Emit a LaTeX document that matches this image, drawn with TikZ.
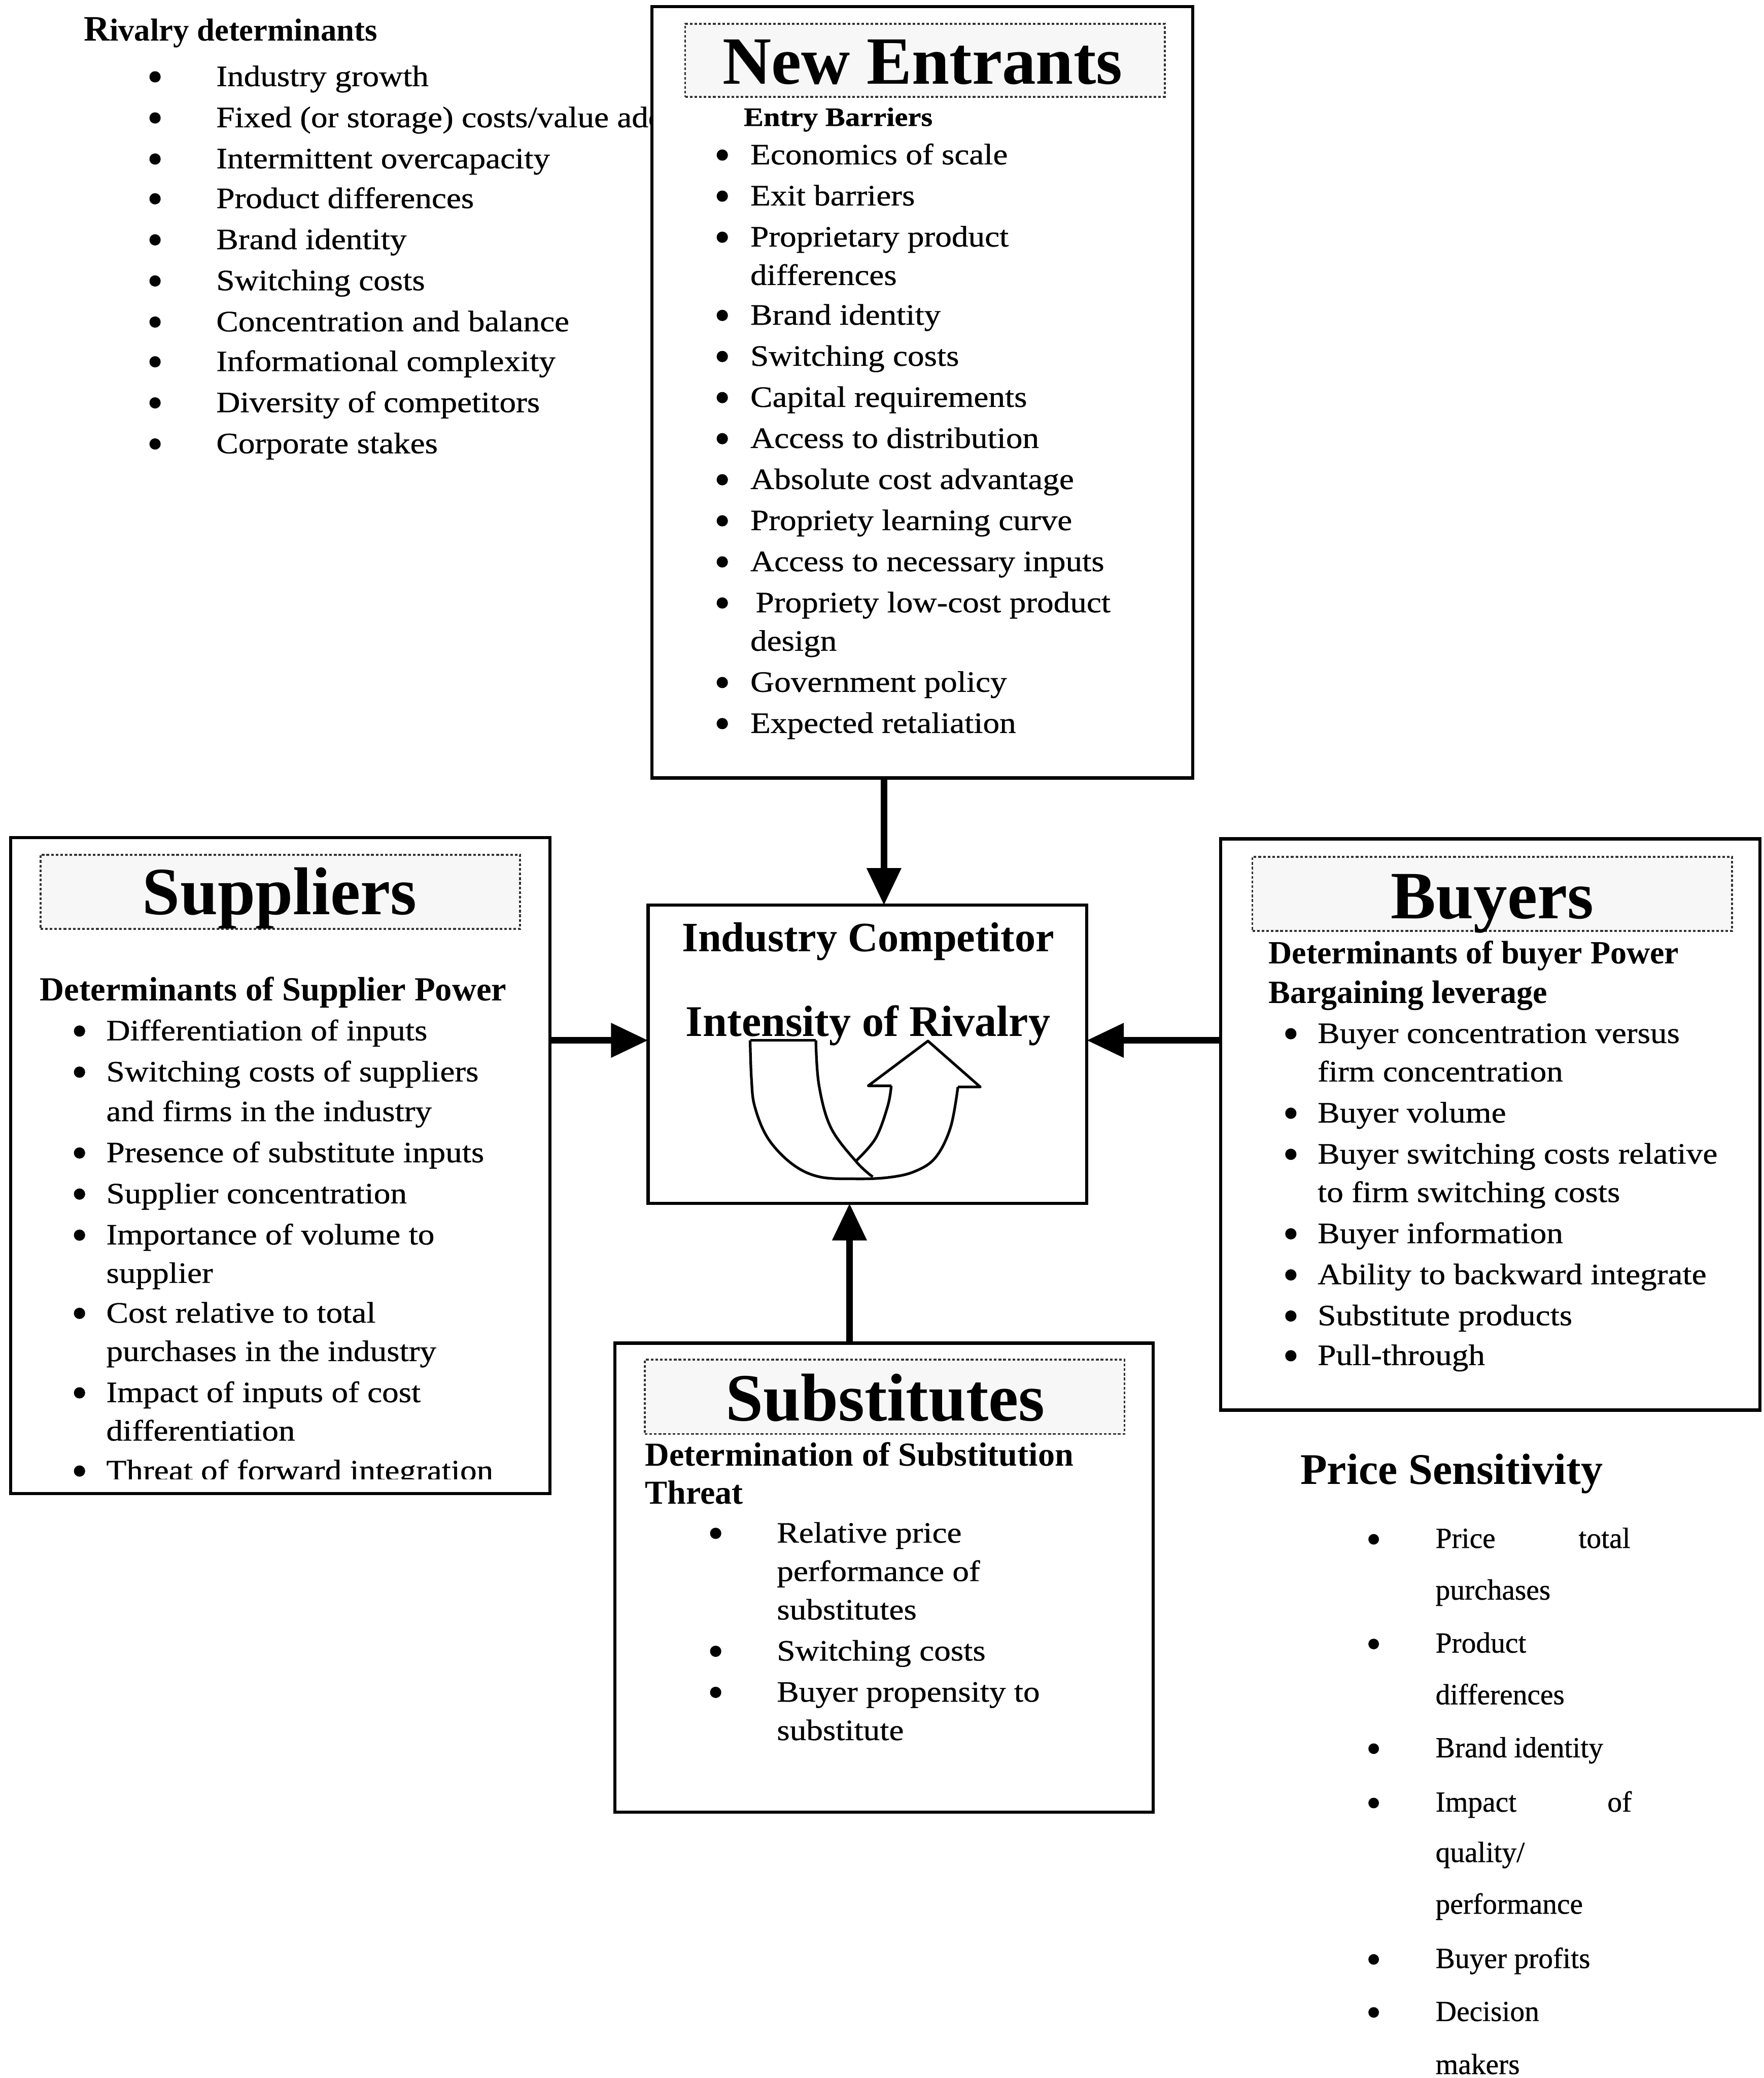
\documentclass[tikz,border=0pt]{standalone}
\usepackage{fontspec}
\setmainfont{Liberation Serif}
\newfontfamily\bodyfont[FakeStretch=1.12,FakeBold=0.6]{Liberation Serif}
\newfontfamily\pfont[FakeBold=0.6]{Liberation Serif}
\usetikzlibrary{arrows.meta,calc}
\newcommand\litem[5]{\node[bulc] (#1b) at ([yshift=7pt]#2,#4) {}; \node[body] (#1) at (#3,#4) {#5};}
\newcommand\lcont[4]{\node[body] (#1) at (#2,#3) {#4};}
\newcommand\pitem[5]{\node[bulc,minimum size=8pt] (#1b) at ([yshift=6.5pt]#2,#4) {}; \node[ptext] (#1) at (#3,#4) {#5};}
\newcommand\pcont[4]{\node[ptext] (#1) at (#2,#3) {#4};}
\begin{document}
\begin{tikzpicture}[x=1pt,y=-1pt,
  mainbox/.style={draw,line width=2.4pt,fill=white,inner sep=0pt,outer sep=0pt,anchor=north west},
  titlebox/.style={draw=black!80,line width=1.4pt,dash pattern=on 2pt off 1.5pt,fill=black!3,inner sep=0pt,outer sep=0pt,anchor=north west},
  titletext/.style={font=\fontsize{51}{56}\selectfont\bfseries,anchor=base,inner sep=0pt},
  body/.style={font=\bodyfont\fontsize{22.3}{26}\selectfont,anchor=base west,inner sep=0pt},
  ptext/.style={font=\pfont\fontsize{22}{26}\selectfont,anchor=base west,inner sep=0pt},
  bulc/.style={circle,fill,inner sep=0pt,minimum size=8.5pt},
  head/.style={anchor=base west,inner sep=0pt},
  bigarrow/.style={line width=5pt,-{Triangle[length=28pt,width=25pt]}},
  uarrow/.style={line width=2pt,line join=round},
]
\useasboundingbox (0,0) rectangle (1331,1568);
\fill[white] (0,0) rectangle (1331,1568);

% ---------------- Rivalry determinants ----------------
\node[head,font=\fontsize{24}{28}\selectfont\bfseries] (rivh) at (63,31) {{\fontsize{27}{28}\selectfont R}ivalry determinants};
\litem{r1}{117}{163}{65}{Industry growth}
\litem{r2}{117}{163}{96}{Fixed (or storage) costs/value added}
\litem{r3}{117}{163}{127}{Intermittent overcapacity}
\litem{r4}{117}{163}{157}{Product differences}
\litem{r5}{117}{163}{188}{Brand identity}
\litem{r6}{117}{163}{219}{Switching costs}
\litem{r7}{117}{163}{250}{Concentration and balance}
\litem{r8}{117}{163}{280}{Informational complexity}
\litem{r9}{117}{163}{311}{Diversity of competitors}
\litem{r10}{117}{163}{342}{Corporate stakes}

% ---------------- New Entrants ----------------
\node[mainbox,minimum width=408pt,minimum height=582pt] (ne) at (492,5) {};
\node[titlebox,minimum width=362pt,minimum height=55pt] (net) at (517,18) {};
\node[titletext] (netx) at (696,63.5) {New Entrants};
\node[head,font=\bodyfont\fontsize{20}{24}\selectfont\bfseries] (neh) at (561,95) {Entry Barriers};
\litem{n1}{545}{566}{124}{Economics of scale}
\litem{n2}{545}{566}{155}{Exit barriers}
\litem{n3}{545}{566}{186}{Proprietary product}
\lcont{n3c}{566}{215}{differences}
\litem{n4}{545}{566}{245}{Brand identity}
\litem{n5}{545}{566}{276}{Switching costs}
\litem{n6}{545}{566}{307}{Capital requirements}
\litem{n7}{545}{566}{338}{Access to distribution}
\litem{n8}{545}{566}{369}{Absolute cost advantage}
\litem{n9}{545}{566}{400}{Propriety learning curve}
\litem{n10}{545}{566}{431}{Access to necessary inputs}
\litem{n11}{545}{570}{462}{Propriety low-cost product}
\lcont{n11c}{566}{491}{design}
\litem{n12}{545}{566}{522}{Government policy}
\litem{n13}{545}{566}{553}{Expected retaliation}

% ---------------- Industry competitor ----------------
\node[mainbox,minimum width=331pt,minimum height=225pt,line width=2.5pt] (ic) at (489,683) {};
\node[anchor=base,inner sep=0pt,font=\fontsize{31.5}{36}\selectfont\bfseries] (ic1) at (655,718) {Industry Competitor};
\node[anchor=base,inner sep=0pt,font=\fontsize{33}{38}\selectfont\bfseries] (ic2) at (655,782) {Intensity of Rivalry};
% U-turn arrow
\draw[uarrow] (566,785) -- (615.6,785);
\draw[uarrow] plot[smooth,tension=0.6] coordinates {(566,785) (567,814) (569.5,835) (579.5,859) (597.6,878.2) (617.9,887.9) (645,889.5) (670,888.5) (690,884) (705.9,873.4) (717.2,850.8) (722.8,820.2)};
\draw[uarrow] (722.8,820.2) -- (739.7,820.2) -- (700.2,785.5) -- (655.1,819.3) -- (672.5,819.3);
\draw[uarrow] plot[smooth,tension=0.6] coordinates {(672.5,819.3) (669.8,834.7) (660.7,858.9) (646.1,875.8)};
\draw[uarrow] plot[smooth,tension=0.6] coordinates {(615.6,785) (617.9,818.5) (626.9,850.8) (646.1,876.6) (658.5,888)};

% ---------------- Suppliers ----------------
\node[mainbox,minimum width=407pt,minimum height=495pt] (sup) at (8,632) {};
\node[titlebox,minimum width=362pt,minimum height=56pt] (supt) at (30.5,645) {};
\node[titletext] (suptx) at (211,690) {Suppliers};
\node[head,font=\fontsize{25.5}{30}\selectfont\bfseries] (suph) at (30,755) {Determinants of Supplier Power};
\litem{s1}{60}{80}{785}{Differentiation of inputs}
\litem{s2}{60}{80}{816}{Switching costs of suppliers}
\lcont{s2c}{80}{846}{and firms in the industry}
\litem{s3}{60}{80}{877}{Presence of substitute inputs}
\litem{s4}{60}{80}{908}{Supplier concentration}
\litem{s5}{60}{80}{939}{Importance of volume to}
\lcont{s5c}{80}{968}{supplier}
\litem{s6}{60}{80}{998}{Cost relative to total}
\lcont{s6c}{80}{1027}{purchases in the industry}
\litem{s7}{60}{80}{1058}{Impact of inputs of cost}
\lcont{s7c}{80}{1087}{differentiation}
\begin{scope}
\clip (8,632) rectangle (414,1116);
\litem{s8}{60}{80}{1117}{Threat of forward integration}
\end{scope}

% ---------------- Buyers ----------------
\node[mainbox,minimum width=407pt,minimum height=431pt] (buy) at (921,633) {};
\node[titlebox,minimum width=362pt,minimum height=56pt] (buyt) at (945,646.5) {};
\node[titletext] (buytx) at (1126,693) {Buyers};
\node[head,font=\fontsize{24.5}{29}\selectfont\bfseries] (buyh1) at (957,727) {Determinants of buyer Power};
\node[head,font=\fontsize{24.5}{29}\selectfont\bfseries] (buyh2) at (957,757) {Bargaining leverage};
\litem{b1}{974}{994}{787}{Buyer concentration versus}
\lcont{b1c}{994}{816}{firm concentration}
\litem{b2}{974}{994}{847}{Buyer volume}
\litem{b3}{974}{994}{878}{Buyer switching costs relative}
\lcont{b3c}{994}{907}{to firm switching costs}
\litem{b4}{974}{994}{938}{Buyer information}
\litem{b5}{974}{994}{969}{Ability to backward integrate}
\litem{b6}{974}{994}{1000}{Substitute products}
\litem{b7}{974}{994}{1030}{Pull-through}

% ---------------- Substitutes ----------------
\node[mainbox,minimum width=406pt,minimum height=354pt] (sub) at (464,1013.5) {};
\node[titlebox,minimum width=362pt,minimum height=56pt] (subt) at (486.5,1026) {};
\node[titletext] (subtx) at (668,1072) {Substitutes};
\node[head,font=\fontsize{25.3}{30}\selectfont\bfseries] (subh1) at (486.5,1106) {Determination of Substitution};
\node[head,font=\fontsize{25.3}{30}\selectfont\bfseries] (subh2) at (486.5,1135) {Threat};
\litem{u1}{540}{586}{1164}{Relative price}
\lcont{u1c}{586}{1193}{performance of}
\lcont{u1d}{586}{1222}{substitutes}
\litem{u2}{540}{586}{1253}{Switching costs}
\litem{u3}{540}{586}{1284}{Buyer propensity to}
\lcont{u3c}{586}{1313}{substitute}

% ---------------- Price sensitivity ----------------
\node[head,font=\fontsize{33}{38}\selectfont\bfseries] (ps) at (981,1120) {Price Sensitivity};
\pitem{p1}{1036.5}{1083}{1168}{\hbox to 147pt{Price\hfill total}}
\pcont{p1c}{1083}{1207}{purchases}
\pitem{p2}{1036.5}{1083}{1247}{Product}
\pcont{p2c}{1083}{1286}{differences}
\pitem{p3}{1036.5}{1083}{1326}{Brand identity}
\pitem{p4}{1036.5}{1083}{1367}{\hbox to 148pt{Impact\hfill of}}
\pcont{p4c}{1083}{1405}{quality/}
\pcont{p4d}{1083}{1444}{performance}
\pitem{p5}{1036.5}{1083}{1485}{Buyer profits}
\pitem{p6}{1036.5}{1083}{1525}{Decision}
\pcont{p6c}{1083}{1565}{makers}

% ---------------- Connectors ----------------
\coordinate (icN) at ([xshift=12.5pt]ic.north);
\coordinate (icW) at ([yshift=10.5pt]ic.west);
\coordinate (icE) at ([yshift=10.5pt]ic.east);
\coordinate (icS) at ([xshift=-13.5pt]ic.south);
\draw[bigarrow] (ne.south -| icN) -- (icN);
\draw[bigarrow] (sup.east |- icW) -- (icW);
\draw[bigarrow] (buy.west |- icE) -- (icE);
\draw[bigarrow] (sub.north -| icS) -- (icS);
\end{tikzpicture}
\end{document}
